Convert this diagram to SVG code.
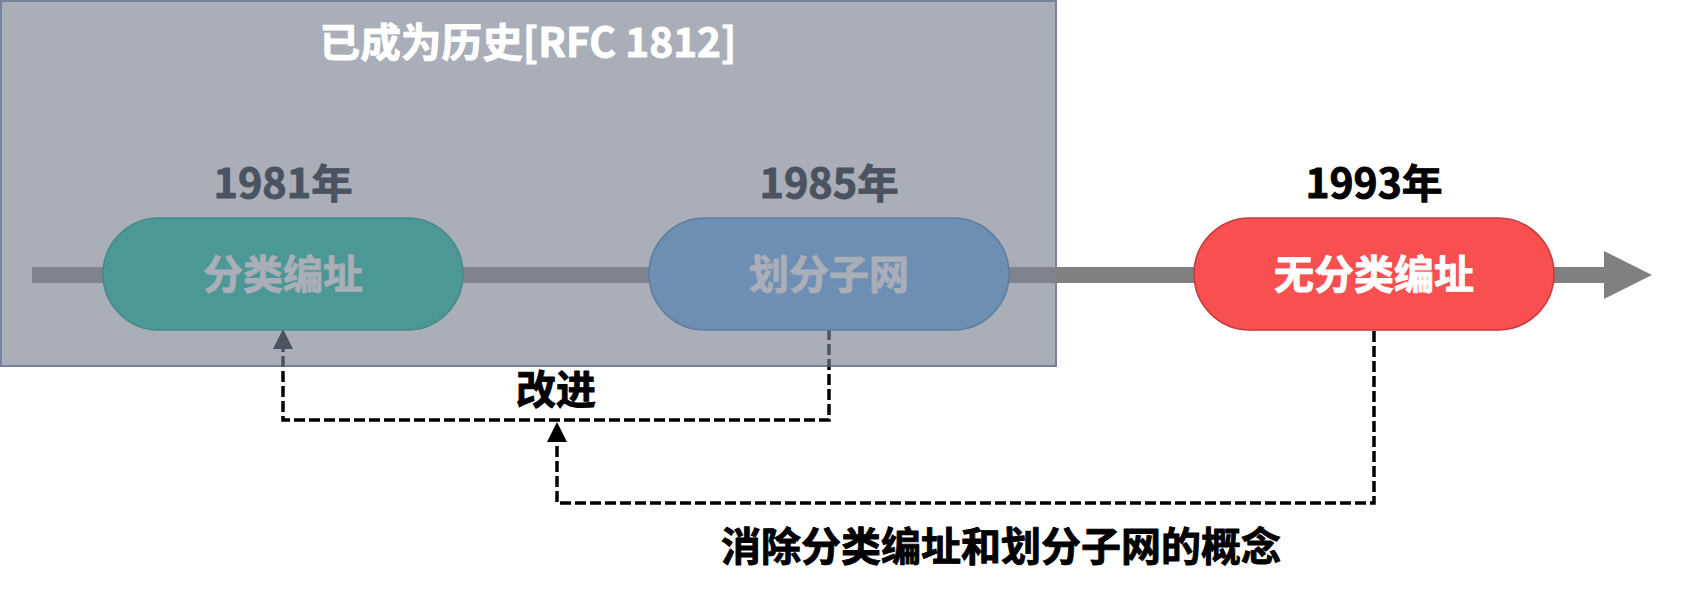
<svg xmlns="http://www.w3.org/2000/svg" width="1702" height="596" viewBox="0 0 1702 596">
  <style>
    text { font-family: "Noto Sans CJK SC", "Liberation Sans", sans-serif; font-weight: bold; text-anchor: middle; stroke-width: 0.9; stroke-linejoin: round; }
    .lbl { font-size: 40px; }
    .year { font-size: 40px; }
    .pill { stroke-width: 1.5; }
    .dash { fill: none; stroke-width: 3.5; stroke-dasharray: 11 4; }
  </style>
  <defs>
    <linearGradient id="connGrad" gradientUnits="userSpaceOnUse" x1="0" y1="0" x2="0" y2="596">
      <stop offset="0" stop-color="#4B5260"/>
      <stop offset="0.6158" stop-color="#4B5260"/>
      <stop offset="0.6158" stop-color="#000000"/>
      <stop offset="1" stop-color="#000000"/>
    </linearGradient>
  </defs>

  <g id="history">
    <rect x="1" y="1" width="1055" height="365" fill="#A9AEB9" stroke="#75829A" stroke-width="2"/>
    <text x="528" y="57" font-size="40" fill="#FFFFFF" stroke="#FFFFFF" textLength="417" lengthAdjust="spacingAndGlyphs">已成为历史[RFC 1812]</text>
  </g>

  <g id="timeline">
    <rect x="32" y="267" width="1024" height="16" fill="#7E838E"/>
    <rect x="1056" y="267" width="548" height="16" fill="#808080"/>
    <polygon points="1604,251 1652,275 1604,299" fill="#808080"/>
  </g>

  <g id="connectors">
    <path class="dash" d="M829,329 V420 H283 V349" stroke="url(#connGrad)"/>
    <polygon points="283,329 273,349 293,349" fill="#4B5260"/>
    <path class="dash" d="M1374,331 V503 H557 V441" stroke="#000000"/>
    <polygon points="557,422 547,442 567,442" fill="#000000"/>
    <text class="lbl" x="556" y="404" fill="#000000" stroke="#000000">改进</text>
    <text class="lbl" x="1001" y="561" fill="#000000" stroke="#000000">消除分类编址和划分子网的概念</text>
  </g>

  <g id="node-1981">
    <text class="year" x="283" y="198" fill="#4B5260" stroke="#4B5260" textLength="139" lengthAdjust="spacingAndGlyphs">1981年</text>
    <rect class="pill" x="103" y="218" width="360" height="112" rx="56" fill="#4C9894" stroke="#478A86"/>
    <text class="lbl" x="283" y="289" fill="#A9AEB8" stroke="#A9AEB8">分类编址</text>
  </g>

  <g id="node-1985">
    <text class="year" x="829" y="198" fill="#4B5260" stroke="#4B5260" textLength="139" lengthAdjust="spacingAndGlyphs">1985年</text>
    <rect class="pill" x="649" y="218" width="360" height="112" rx="56" fill="#6D8FB4" stroke="#5F7D9E"/>
    <text class="lbl" x="829" y="289" fill="#A9AEB8" stroke="#A9AEB8">划分子网</text>
  </g>

  <g id="node-1993">
    <text class="year" x="1374" y="198" fill="#000000" stroke="#000000" textLength="137" lengthAdjust="spacingAndGlyphs">1993年</text>
    <rect class="pill" x="1194" y="218" width="360" height="112" rx="56" fill="#F84F51" stroke="#C63A3E"/>
    <text class="lbl" x="1374" y="289" fill="#FFFFFF" stroke="#FFFFFF">无分类编址</text>
  </g>
</svg>
